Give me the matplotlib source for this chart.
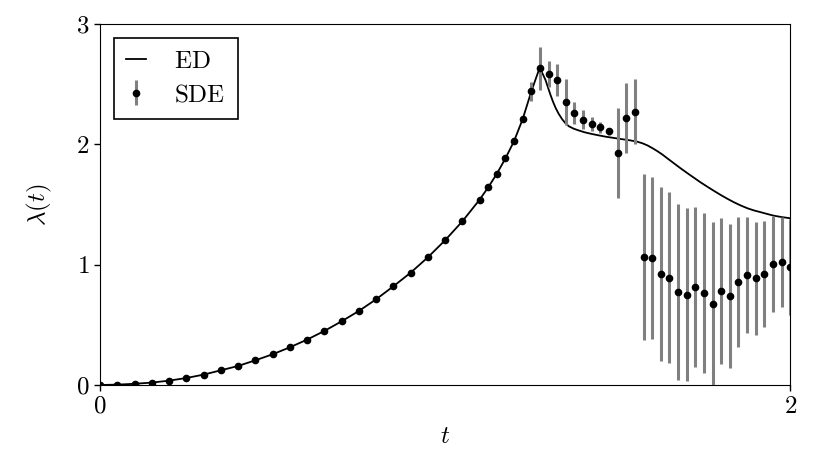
import matplotlib
matplotlib.use("Agg")
import matplotlib.pyplot as plt
import numpy as np

plt.rcParams['font.family'] = ['cmr10', 'DejaVu Serif']
plt.rcParams['mathtext.fontset'] = 'cm'
plt.rcParams['axes.formatter.use_mathtext'] = True
plt.rcParams['font.size'] = 18

# SDE estimates
sde_t = [0.0, 0.05, 0.1, 0.15, 0.2, 0.25, 0.3, 0.35, 0.4, 0.45, 0.5, 0.55,
         0.6, 0.65, 0.7, 0.75, 0.8, 0.85, 0.9, 0.95, 1.0, 1.05, 1.1,
         1.125, 1.15, 1.175, 1.2, 1.225, 1.25, 1.275, 1.3, 1.325, 1.35,
         1.375, 1.4, 1.425, 1.45, 1.475, 1.5, 1.525, 1.55, 1.575, 1.6,
         1.625, 1.65, 1.675, 1.7, 1.725, 1.75, 1.775, 1.8, 1.825, 1.85,
         1.875, 1.9, 1.925, 1.95, 1.975, 2.0]
sde_val = [0.0, 0.0, 0.01, 0.02, 0.036, 0.058, 0.086, 0.122, 0.158, 0.205,
           0.255, 0.313, 0.377, 0.449, 0.529, 0.615, 0.712, 0.82, 0.933,
           1.061, 1.203, 1.36, 1.54,
           1.643, 1.756, 1.884, 2.028, 2.211, 2.441, 2.632, 2.583, 2.535,
           2.352, 2.26, 2.205, 2.172, 2.142, 2.109, 1.926, 2.222, 2.272,
           1.064, 1.056, 0.923, 0.892, 0.773, 0.751, 0.812, 0.762, 0.676,
           0.781, 0.74, 0.856, 0.914, 0.887, 0.923, 1.003, 1.02, 0.981]
sde_err = [0.0] * 23 + [
           0.0, 0.0, 0.0, 0.0, 0.0, 0.08, 0.18, 0.11, 0.135,
           0.195, 0.09, 0.077, 0.058, 0.045, 0.03, 0.375, 0.29, 0.27,
           0.69, 0.675, 0.72, 0.71, 0.73, 0.717, 0.665, 0.665, 0.68,
           0.605, 0.6, 0.54, 0.485, 0.47, 0.44, 0.40, 0.375, 0.40]

# ED curve
ed_t = [0.0, 0.05, 0.1, 0.15, 0.2, 0.25, 0.3, 0.35, 0.4, 0.45, 0.5, 0.55,
        0.6, 0.65, 0.7, 0.75, 0.8, 0.85, 0.9, 0.95, 1.0, 1.05, 1.1,
        1.125, 1.15, 1.175, 1.2, 1.225, 1.25, 1.274,
        1.283, 1.291, 1.298, 1.305, 1.312, 1.32, 1.329, 1.339, 1.349,
        1.359, 1.373, 1.388, 1.405, 1.426, 1.445, 1.465, 1.49, 1.513,
        1.535, 1.557, 1.572, 1.586, 1.6, 1.615, 1.63, 1.644, 1.663, 1.683,
        1.702, 1.721, 1.74, 1.76, 1.78, 1.799, 1.818, 1.837, 1.856, 1.876,
        1.895, 1.915, 1.934, 1.953, 1.975, 2.0]
ed_val = [0.0, 0.003, 0.01, 0.02, 0.036, 0.058, 0.086, 0.122, 0.158, 0.205,
          0.255, 0.313, 0.377, 0.449, 0.529, 0.615, 0.712, 0.82, 0.933,
          1.061, 1.203, 1.36, 1.54,
          1.643, 1.756, 1.884, 2.028, 2.211, 2.441, 2.636,
          2.585, 2.535, 2.475, 2.415, 2.36, 2.305, 2.255, 2.21, 2.175,
          2.15, 2.13, 2.115, 2.1, 2.086, 2.075, 2.064, 2.053, 2.043,
          2.034, 2.022, 2.009, 1.992, 1.97, 1.944, 1.915, 1.884, 1.843, 1.80,
          1.761, 1.723, 1.685, 1.648, 1.612, 1.579, 1.548, 1.519, 1.493,
          1.469, 1.451, 1.436, 1.421, 1.407, 1.396, 1.386]

fig = plt.figure(figsize=(8.3, 4.54), dpi=100)
ax = fig.add_axes([0.1205, 0.152, 0.8315, 0.795])

ax.plot(ed_t, ed_val, color='black', lw=1.3, label=r'$\mathrm{ED}$', zorder=2)
ax.errorbar(sde_t, sde_val, yerr=sde_err, fmt='o', color='black',
            markersize=4.5, ecolor='#808080', elinewidth=2.2, capsize=0,
            label=r'$\mathrm{SDE}$', zorder=3)

ax.set_xlim(0, 2)
ax.set_ylim(0, 3)
ax.set_xticks([0, 2])
ax.set_yticks([0, 1, 2, 3])
ax.set_xticklabels([r'$0$', r'$2$'])
ax.set_yticklabels([r'$0$', r'$1$', r'$2$', r'$3$'])
ax.tick_params(direction='out', length=4, width=1, labelsize=18)
ax.set_xlabel(r'$t$', fontsize=18, labelpad=6)
ax.set_ylabel(r'$\lambda(t)$', fontsize=18, labelpad=16)

leg = ax.legend(loc='upper left', fancybox=False, edgecolor='black',
                framealpha=1, handlelength=0.8, fontsize=18,
                borderaxespad=0.55, handletextpad=1.1, labelspacing=0.45,
                borderpad=0.5)
leg.get_frame().set_linewidth(1.2)

fig.savefig('out.png', dpi=100)
